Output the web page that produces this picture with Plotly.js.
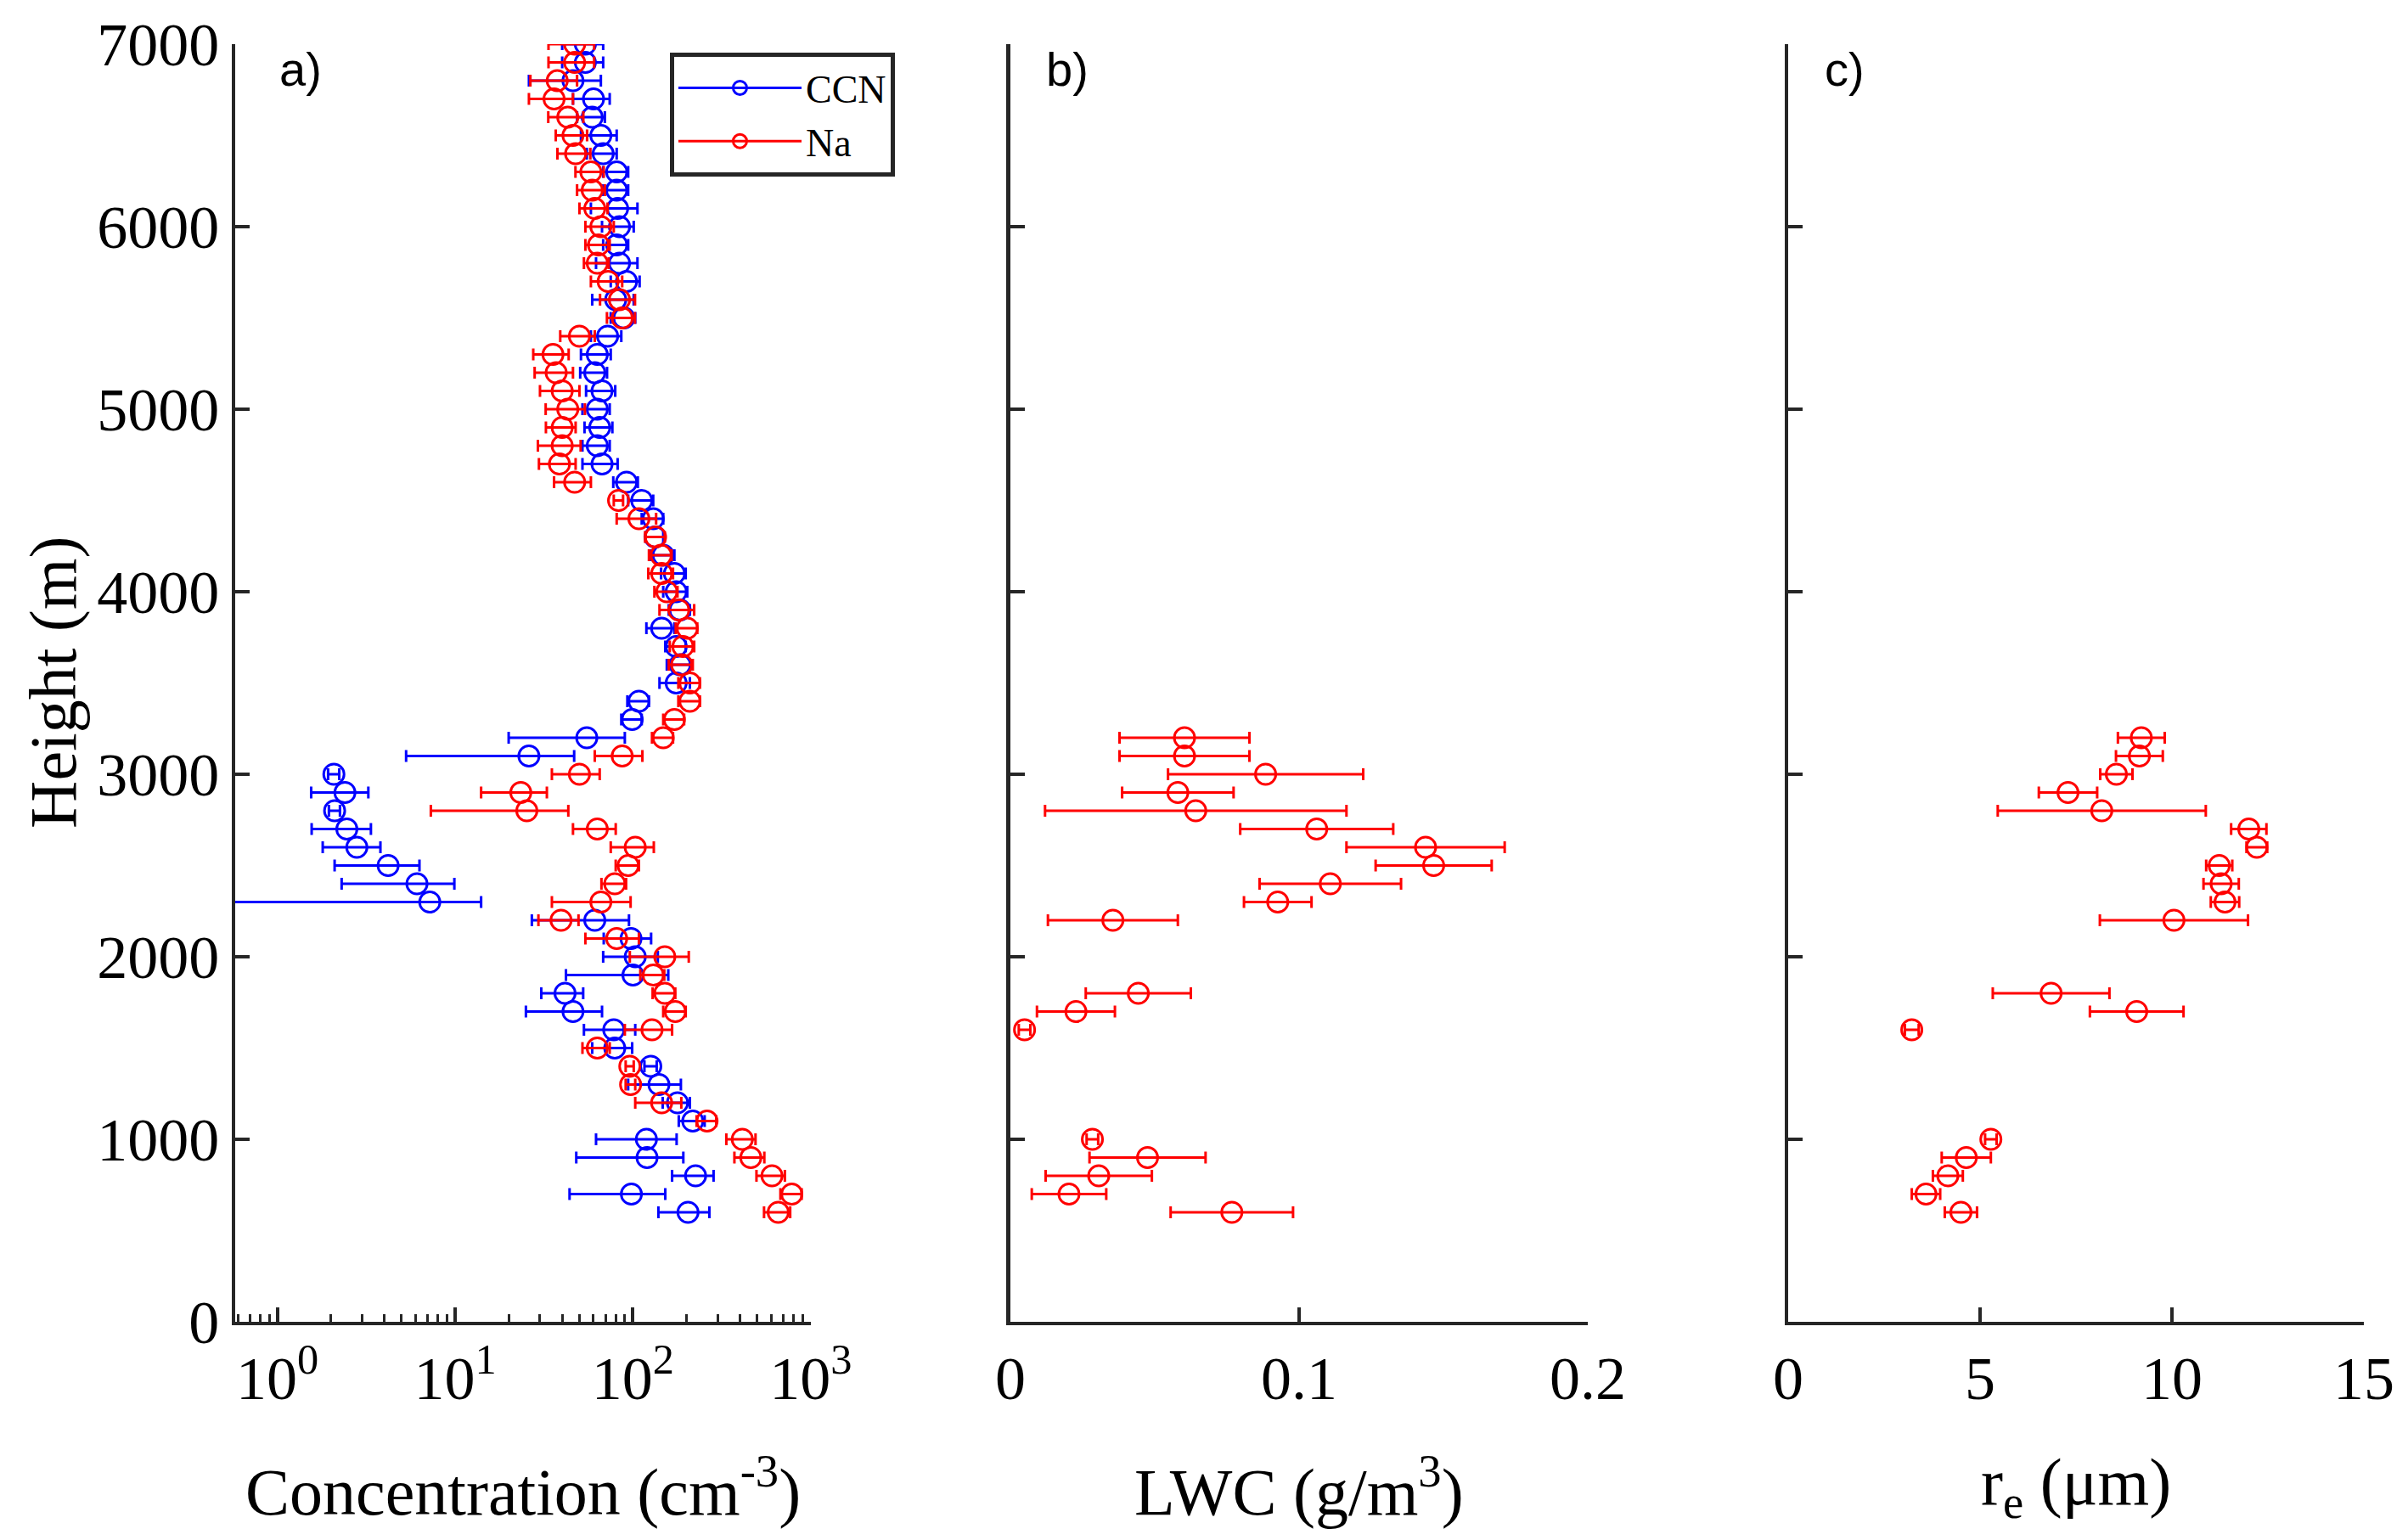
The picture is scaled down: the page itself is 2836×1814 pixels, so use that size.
<!DOCTYPE html>
<html>
<head>
<meta charset="utf-8">
<script src="https://cdn.plot.ly/plotly-3.0.1.min.js"></script>
<style>
  html, body { margin: 0; padding: 0; background: #fff; }
  #chart { width: 2836px; height: 1814px; }
</style>
</head>
<body>
<div id="chart"></div>
<script>
// panel a: every 100 m from 7000 down to 600
const heights_a = [7000, 6900, 6800, 6700, 6600, 6500, 6400, 6300, 6200, 6100,
                   6000, 5900, 5800, 5700, 5600, 5500, 5400, 5300, 5200, 5100,
                   5000, 4900, 4800, 4700, 4600, 4500, 4400, 4300, 4200, 4100,
                   4000, 3900, 3800, 3700, 3600, 3500, 3400, 3300, 3200, 3100,
                   3000, 2900, 2800, 2700, 2600, 2500, 2400, 2300, 2200, 2100,
                   2000, 1900, 1800, 1700, 1600, 1500, 1400, 1300, 1200, 1100,
                   1000, 900, 800, 700, 600];

const ccn = [54, 54, 46, 60, 59, 66, 68, 81, 81, 82,
             84, 81, 84, 92, 80, 89, 72, 63, 61, 67,
             63, 65, 63, 67, 92, 112, 130, 133, 148, 171,
             175, 184, 145, 175, 184, 175, 108, 99, 55, 26,
             2.08, 2.4, 2.1, 2.46, 2.8, 4.2, 6.1, 7.2, 61, 97.5,
             103, 100, 41.5, 46, 78, 79, 126, 140, 178, 217,
             119, 120, 225, 98, 204];
const ccn_err = [14, 14, 20, 14, 10.5, 15, 13, 13, 13, 24,
                 17, 13, 22, 17, 21, 14, 14, 12, 10.5, 12.5,
                 11, 11.6, 11, 15, 14.5, 18, 18, 15, 23, 27,
                 27, 25, 26, 23, 29, 34, 15, 13, 35, 20.7,
                 0.15, 0.85, 0.15, 0.9, 1.0, 2.1, 3.8, 6.8, 34, 29,
                 35, 58, 11, 21, 25, 20, 10, 46, 31, 36,
                 57, 72, 59, 54, 65];

const na = [47, 47, 37.5, 36, 43, 46, 47.6, 58, 59, 61,
            66, 64, 63, 72.5, 84, 87, 50, 35.5, 37, 40,
            43, 40, 40, 38.6, 47, 83, 108, 134, 144, 145,
            155, 181, 202, 191, 188, 209, 209, 171, 148, 87,
            50, 23.4, 25.3, 63, 103, 94, 79, 66, 39.4, 81,
            151, 130, 151, 173, 128, 63, 96, 97, 145, 261,
            412, 460, 605, 782, 656];
const na_err = [13.5, 13.5, 11, 10, 9.6, 9.2, 10, 10.5, 10.5, 11,
                12, 10, 10, 14.5, 18.7, 15.6, 11, 8, 9, 10,
                10.7, 7.6, 10.8, 9, 11, 5, 27, 17, 21, 23,
                23, 40, 28, 30, 29, 29, 29, 23, 20, 26,
                15, 9.4, 18, 17, 28, 14, 12.5, 31, 10, 27,
                55, 20, 22, 25, 38, 11, 5, 6, 42, 33,
                77, 88, 110, 107, 110];

// panels b and c: cloud levels only
const heights_cloud = [3200, 3100, 3000, 2900, 2800, 2700, 2600, 2500, 2400, 2300,
                       2200, 1800, 1700, 1600, 1000, 900, 800, 700, 600];
const lwc = [0.0603, 0.0603, 0.0884, 0.0580, 0.0642, 0.1061, 0.1438, 0.1466, 0.1108, 0.0926,
             0.0355, 0.0443, 0.0227, 0.0049, 0.0284, 0.0475, 0.0306, 0.0203, 0.0767];
const lwc_err = [0.0225, 0.0225, 0.0338, 0.0193, 0.0522, 0.0265, 0.0274, 0.0201, 0.0245, 0.0117,
                 0.0225, 0.0182, 0.0135, 0.002, 0.002, 0.0201, 0.0184, 0.0129, 0.0212];
const re = [9.2, 9.15, 8.55, 7.29, 8.17, 12.0, 12.21, 11.23, 11.28, 11.38,
            10.05, 6.85, 9.08, 3.22, 5.28, 4.64, 4.16, 3.59, 4.5];
const re_err = [0.61, 0.61, 0.42, 0.76, 2.71, 0.46, 0.27, 0.34, 0.46, 0.37,
                1.93, 1.52, 1.22, 0.18, 0.15, 0.64, 0.39, 0.37, 0.42];

const axis_color = '#262626';
const serif = 'Liberation Serif, Times New Roman, serif';
const sans = 'Liberation Sans, Arial, sans-serif';

function err_trace(x, y, err, color, xaxis, yaxis) {
    return {
        x: x, y: y,
        xaxis: xaxis, yaxis: yaxis,
        type: 'scatter', mode: 'markers',
        showlegend: false,
        marker: {symbol: 'circle-open', size: 24, color: color, line: {width: 3, color: color}},
        error_x: {type: 'data', array: err, visible: true, color: color, thickness: 3, width: 7}
    };
}

// legend-only entries, drawn as a line through an open circle
function legend_trace(name, color) {
    return {
        x: [null], y: [null], xaxis: 'x', yaxis: 'y',
        type: 'scatter', mode: 'lines+markers', name: name,
        line: {color: color, width: 3},
        marker: {symbol: 'circle-open', size: 24, color: color, line: {width: 3, color: color}}
    };
}

const chart_data = [
    err_trace(ccn, heights_a, ccn_err, '#0000ff', 'x', 'y'),
    err_trace(na, heights_a, na_err, '#ff0000', 'x', 'y'),
    err_trace(lwc, heights_cloud, lwc_err, '#ff0000', 'x2', 'y2'),
    err_trace(re, heights_cloud, re_err, '#ff0000', 'x3', 'y3'),
    legend_trace('CCN', '#0000ff'),
    legend_trace('Na', '#ff0000')
];

// minor ticks of the log axis (2..9 in each decade)
let minor_vals = [0.6, 0.7, 0.8, 0.9];
[1, 10, 100].forEach(d => {
    for (let k = 2; k <= 9; k++) minor_vals.push(k * d);
});

const common_axis = {
    showline: true, linecolor: axis_color, linewidth: 4.5,
    ticks: 'inside', ticklen: 17, tickwidth: 4, tickcolor: axis_color,
    showgrid: false, zeroline: false,
    tickfont: {family: serif, size: 72, color: '#000'}
};

const y_domain = [0.1417, 0.9713];

function y_axis(anchor, labels) {
    return Object.assign({}, common_axis, {
        domain: y_domain, anchor: anchor,
        range: [0, 7000], tick0: 0, dtick: 1000,
        showticklabels: labels
    });
}

const chart_layout = {
    width: 2836, height: 1814,
    margin: {l: 0, r: 0, t: 0, b: 0},
    paper_bgcolor: '#fff', plot_bgcolor: '#fff',
    showlegend: true,
    legend: {
        x: 0.2782, y: 0.9658, xanchor: 'left', yanchor: 'top',
        bgcolor: '#fff', bordercolor: axis_color, borderwidth: 5,
        font: {family: serif, size: 46, color: '#000'},
        itemwidth: 145, tracegroupgap: 0
    },
    xaxis: Object.assign({}, common_axis, {
        domain: [0.0977, 0.3367], anchor: 'y',
        type: 'log', range: [-0.2365, 3],
        tickvals: [1, 10, 100, 1000],
        ticktext: ['10<sup>0</sup>', '10<sup>1</sup>', '10<sup>2</sup>', '10<sup>3</sup>'],
        minor: {tickvals: minor_vals, ticks: 'inside', ticklen: 9, tickwidth: 3, tickcolor: axis_color, showgrid: false}
    }),
    yaxis: y_axis('x', true),
    xaxis2: Object.assign({}, common_axis, {
        domain: [0.4196, 0.6594], anchor: 'y2',
        range: [0, 0.2], tick0: 0, dtick: 0.1
    }),
    yaxis2: y_axis('x2', false),
    xaxis3: Object.assign({}, common_axis, {
        domain: [0.7426, 0.9817], anchor: 'y3',
        range: [0, 15], tick0: 0, dtick: 5
    }),
    yaxis3: y_axis('x3', false),
    annotations: [
        {text: 'Height (m)', x: 0.0222, y: 0.5568, textangle: -90},
        {text: 'Concentration (cm<sup>-3</sup>)', x: 0.2172, y: 0.0347},
        {text: 'LWC (g/m<sup>3</sup>)', x: 0.5395, y: 0.0347},
        {text: 'r<sub>e</sub> (\u03bcm)', x: 0.8621, y: 0.0347}
    ].map(a => Object.assign({
        xref: 'paper', yref: 'paper', showarrow: false,
        xanchor: 'center', yanchor: 'middle',
        font: {family: serif, size: 78, color: '#000'}
    }, a)).concat(
        [['a)', 0.1153], ['b)', 0.4337], ['c)', 0.7570]].map(p => ({
            text: p[0], x: p[1], y: 0.9553,
            xref: 'paper', yref: 'paper', showarrow: false,
            xanchor: 'left', yanchor: 'middle',
            font: {family: sans, size: 56, color: '#000'}
        }))
    )
};

Plotly.newPlot('chart', chart_data, chart_layout, {displayModeBar: false, staticPlot: true});
</script>
</body>
</html>
